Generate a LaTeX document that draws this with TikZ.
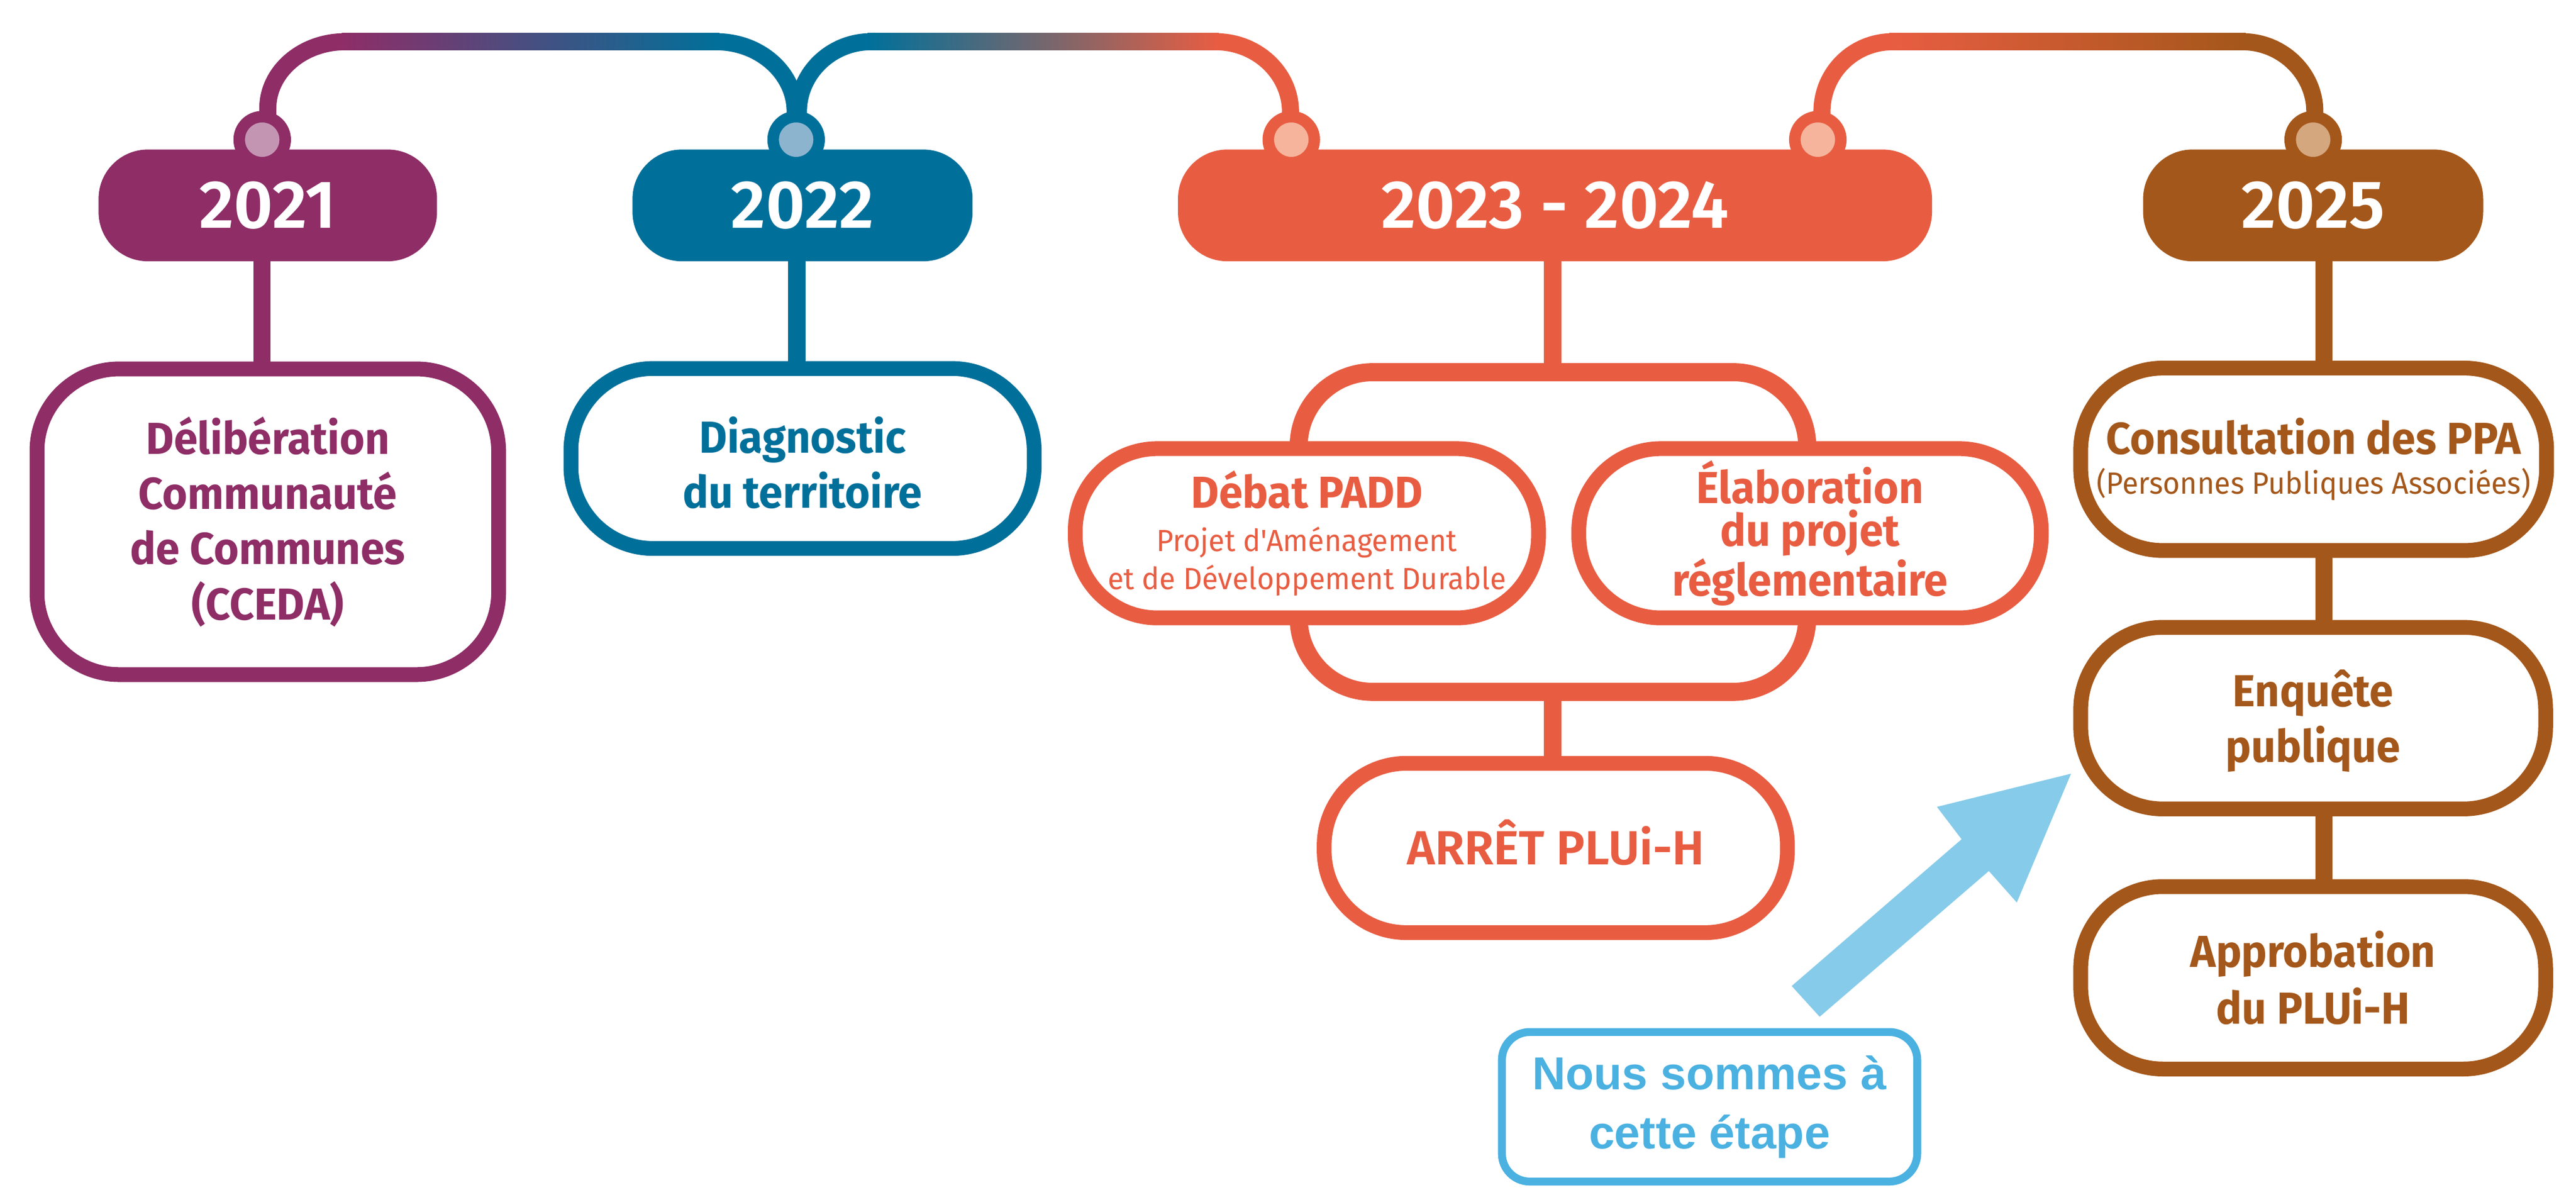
\documentclass[tikz,border=0pt]{standalone}
\usepackage{fontspec}
\newfontfamily\bodyf[FakeStretch=0.96]{Fira Sans}
\newfontfamily\yearf{Fira Sans SemiBold}
\newfontfamily\nousf{Liberation Sans}
\usetikzlibrary{calc}
\pgfdeclarelayer{background}
\pgfsetlayers{background,main}
\definecolor{cPur}{HTML}{8E2D66}
\definecolor{cPurL}{HTML}{C495B3}
\definecolor{cTeal}{HTML}{00709A}
\definecolor{cTealL}{HTML}{8DB4CF}
\definecolor{cOra}{HTML}{E85D42}
\definecolor{cOraL}{HTML}{F6B49C}
\definecolor{cBro}{HTML}{A4571A}
\definecolor{cBroL}{HTML}{D4A77F}
\definecolor{cBlue}{HTML}{4AB1E1}
\definecolor{cArrow}{HTML}{86CBEA}
\newcommand{\pxu}{0.02cm}
\newcommand{\bxf}[1]{\bodyf\bfseries\fontsize{15.5}{#1}\selectfont}
\newcommand{\smalltxt}{\mdseries\fontsize{10.6}{13}\selectfont}
\begin{document}
\begin{tikzpicture}[x=0.02cm,y=-0.02cm,
  pill/.style={fill=#1, rounded corners=30*\pxu, minimum width=206*\pxu, minimum height=68*\pxu,
    inner sep=0pt, outer sep=0pt, text=white, font=\yearf\fontsize{23.5}{28}\selectfont},
  bulb/.style n args={2}{circle, draw=#1, fill=#2, line width=7*\pxu, minimum size=28*\pxu, inner sep=0pt},
  box/.style={draw=#1, text=#1, line width=9*\pxu, fill=white, rounded corners=50*\pxu,
    minimum width=282*\pxu, align=center, inner sep=0pt, font=\bxf{19.1}},
  stem/.style={line width=10.5*\pxu, draw=#1},
  toplink/.style={line width=10.4*\pxu, draw=#1}
]
\begin{pgfonlayer}{background}
  \fill[white] (0,0) rectangle (1568,724.1);
\end{pgfonlayer}
\useasboundingbox (0,0) rectangle (1568,724.1);

% year pills
\node[pill=cPur] (p21) at (163,125) {2021};
\node[pill=cTeal, minimum width=207*\pxu] (p22) at (488.5,125) {2022};
\node[pill=cOra, minimum width=459*\pxu] (p23) at (946.5,125) {2023 - 2024};
\node[pill=cBro, minimum width=207*\pxu] (p25) at (1408,125) {2025};

% bulbs
\node[bulb={cPur}{cPurL}] (bA) at (159.6,85) {};
\node[bulb={cTeal}{cTealL}] (bB) at (484.6,85) {};
\node[bulb={cOra}{cOraL}] (bC) at (786,85) {};
\node[bulb={cOra}{cOraL}] (bD) at (1106.5,85) {};
\node[bulb={cBro}{cBroL}] (bE) at (1408,85) {};

% bracket of 2023-2024
\node[draw=cOra, line width=11*\pxu, rounded corners=45*\pxu, minimum width=309.5*\pxu,
  minimum height=194.5*\pxu, inner sep=0pt] (brk) at (945.25,323.75) {};

% detail boxes
\node[box=cPur, minimum width=281*\pxu, minimum height=186*\pxu] (b21) at (163,317.5)
  {Délibération\\Communauté\\de Communes\\(CCEDA)};
\node[box=cTeal, minimum height=109.5*\pxu, font=\bxf{18.95}] (b22) at (488.5,279)
  {\rule{0pt}{15.5pt}Diagnostic\\du territoire};
\node[box=cOra, minimum height=103*\pxu, font=\bxf{13.1}] (debat) at (795.5,324.5)
  {Débat PADD\\[1.9pt]\smalltxt Projet d'Aménagement\\\smalltxt et de Développement Durable};
\node[box=cOra, minimum width=281.5*\pxu, minimum height=103*\pxu, font=\bxf{14.8}] (elab) at (1101.75,324.5)
  {Élaboration\\du projet\\réglementaire};
\node[box=cOra, minimum height=103*\pxu, font=\yearf\fontsize{16.6}{20}\selectfont,
  text height=20.5*\pxu, text depth=0pt] (arret) at (947,516) {ARRÊT PLUi-H};
\node[box=cBro, minimum width=283.6*\pxu, minimum height=111*\pxu, font=\bxf{13.9}] (cons) at (1408.3,279.5)
  {Consultation des PPA\\\smalltxt (Personnes Publiques Associées)};
\node[box=cBro, minimum width=283*\pxu, minimum height=110.5*\pxu, font=\bxf{19.2}] (enq) at (1408,437)
  {\rule{0pt}{14.6pt}Enquête\\publique};
\node[box=cBro, minimum width=283*\pxu, minimum height=111*\pxu, font=\bxf{19.7}] (appr) at (1408,595)
  {Approbation\\du PLUi-H};

% "Nous sommes a cette etape"
\node[draw=cBlue, text=cBlue, line width=4.8*\pxu, fill=white, rounded corners=17*\pxu,
  minimum width=252.8*\pxu, minimum height=91*\pxu, align=center, inner sep=0pt,
  font=\nousf\bfseries\fontsize{16}{20.5}\selectfont] (nous) at (1040.6,673.5) {Nous sommes à\\cette étape};

% big arrow
\coordinate (arTailA) at (1090.6,600);
\coordinate (arTailB) at (1107.6,618.7);
\coordinate (arTip) at (1260.6,470.8);
\fill[cArrow] (arTailA) -- (1194,510.7) -- (1179,491) -- (arTip) -- (1227.6,549.2)
  -- (1210.6,530) -- (arTailB) -- cycle;

% connectors (behind)
\coordinate (s21) at (159.5,125);
\coordinate (s22) at (485,125);
\coordinate (s23) at (945,125);
\coordinate (s25) at (1414.5,125);
\coordinate (hA1) at (210,25.4);
\coordinate (hB1) at (436,25.4);
\coordinate (hB2) at (530,25.4);
\coordinate (hC1) at (740,25.4);
\coordinate (hC2) at (1152,25.4);
\coordinate (hD1) at (1365,25.4);
\begin{pgfonlayer}{background}
  \draw[stem=cPur] (s21) -- (s21 |- b21.center);
  \draw[stem=cTeal] (s22) -- (s22 |- b22.center);
  \draw[stem=cOra] (s23) -- (s23 |- brk.north);
  \draw[stem=cOra] (s23 |- brk.south) -- (s23 |- arret.center);
  \draw[stem=cBro] (s25) -- (s25 |- appr.center);
  % top timeline
  \shade[left color=cPur, right color=cTeal] (208,20.2) rectangle (438,30.6);
  \shade[left color=cTeal, right color=cOra] (528,20.2) rectangle (742,30.6);
  \shade[left color=cOra, right color=cBro] (1150,20.2) rectangle (1367,30.6);
  \draw[toplink=cPur] (163,85) -- (163,66) .. controls +(0,-22.4) and +(-26,0) .. (hA1);
  \draw[toplink=cTeal] (hB1) .. controls +(26.5,0) and +(0,-23.5) .. (484,68) -- (bB.center);
  \draw[toplink=cTeal] (486,85) -- (486,68) .. controls +(0,-23.5) and +(-24,0) .. (hB2);
  \draw[toplink=cOra] (hC1) .. controls +(25,0) and +(0,-23.5) .. (785.5,68) -- (bC.center);
  \draw[toplink=cOra] (1109,85) -- (1109,68) .. controls +(0,-23.5) and +(-24,0) .. (hC2);
  \draw[toplink=cBro] (hD1) .. controls +(24,0) and +(0,-23.5) .. (1409,68) -- (bE.center);
\end{pgfonlayer}
\end{tikzpicture}
\end{document}
